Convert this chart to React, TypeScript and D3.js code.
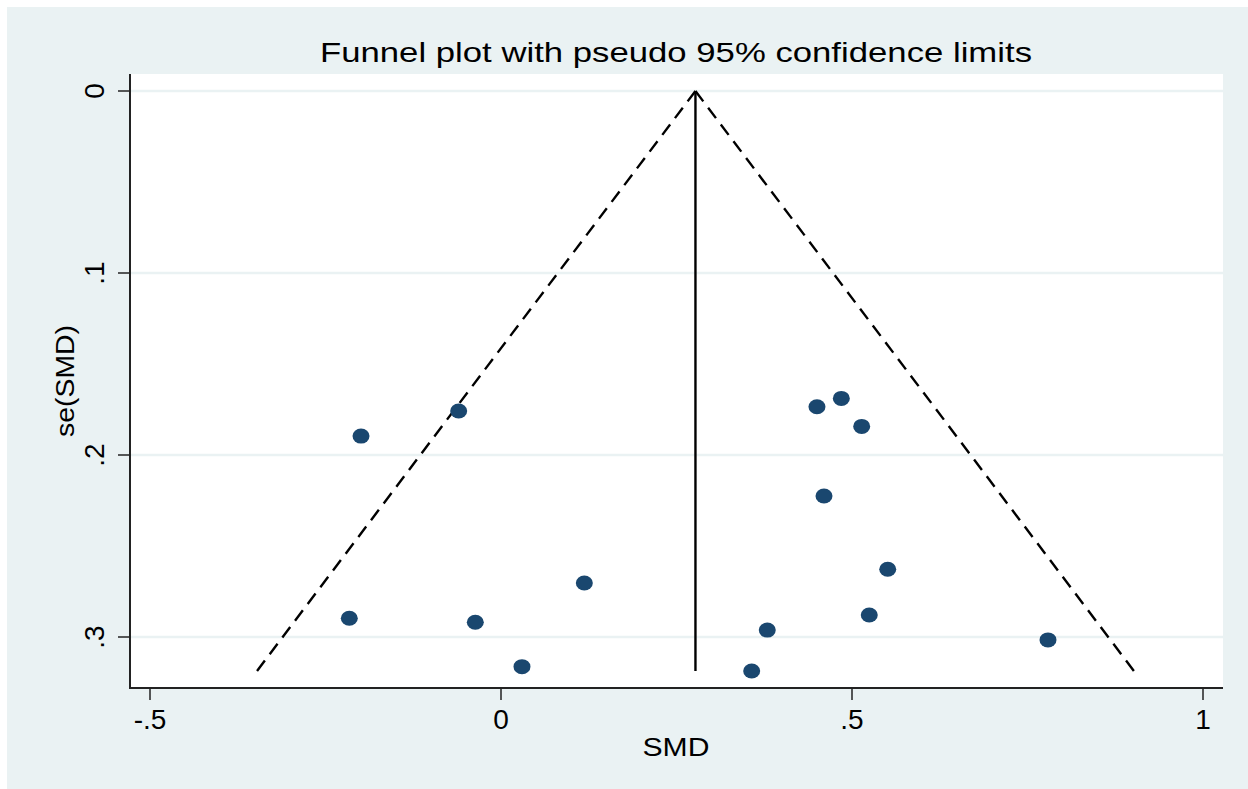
import React from "react";
import * as d3 from "d3";

const smd = [-0.1994, -0.0603, -0.2161, -0.0366, 0.0299, 0.1187, 0.3571, 0.3793, 0.4501, 0.4848, 0.5138, 0.4601, 0.5509, 0.5246, 0.7792];
const seSmd = [0.1896, 0.1758, 0.2897, 0.2919, 0.3163, 0.2703, 0.3187, 0.2962, 0.1735, 0.1689, 0.1843, 0.2225, 0.2628, 0.2879, 0.3016];
const pooled = 0.277;
const xTicks = [-0.5, 0, 0.5, 1];
const xTickLabels = ["-.5", "0", ".5", "1"];
const yTicks = [0, 0.1, 0.2, 0.3];
const yTickLabels = ["0", ".1", ".2", ".3"];
const title = "Funnel plot with pseudo 95% confidence limits";

export default function App() {
  const W = 1248, H = 789;
  const plot = { left: 130, right: 1223, top: 74, bottom: 688 };
  const x = d3.scaleLinear().domain([-0.5, 1]).range([150, 1203]);
  const y = d3.scaleLinear().domain([0, 0.3]).range([91, 637]);
  const maxSe = d3.max(seSmd) as number;
  const line = d3.line<[number, number]>().x(d => x(d[0])).y(d => y(d[1]));
  const leftLimit: [number, number][] = [[pooled, 0], [pooled - 1.96 * maxSe, maxSe]];
  const rightLimit: [number, number][] = [[pooled, 0], [pooled + 1.96 * maxSe, maxSe]];
  const font = "'Liberation Sans', Arial, Helvetica, sans-serif";
  return (
    <svg width={W} height={H} style={{ position: "absolute", left: 0, top: 0 }} fontFamily={font}>
      <rect x={0} y={0} width={W} height={H} fill="#ffffff" />
      <rect x={7} y={7} width={W - 7} height={H - 7} fill="#EAF2F3" />
      <rect x={plot.left} y={plot.top} width={plot.right - plot.left} height={plot.bottom - plot.top} fill="#ffffff" />
      {yTicks.map((t, i) => (
        <line key={"g" + i} x1={plot.left} x2={plot.right} y1={y(t)} y2={y(t)} stroke="#EAF2F3" strokeWidth={2.5} />
      ))}
      <path d={line(leftLimit) || ""} fill="none" stroke="#000" strokeWidth={2.4} strokeDasharray="13 8" />
      <path d={line(rightLimit) || ""} fill="none" stroke="#000" strokeWidth={2.4} strokeDasharray="13 8" />
      <line x1={x(pooled)} x2={x(pooled)} y1={y(0)} y2={y(maxSe)} stroke="#000" strokeWidth={2.4} />
      {smd.map((v, i) => (
        <ellipse key={"p" + i} cx={x(v)} cy={y(seSmd[i])} rx={8.5} ry={7.5} fill="#1a476f" />
      ))}
      <line x1={plot.left} x2={plot.left} y1={plot.top} y2={plot.bottom + 1} stroke="#222" strokeWidth={2} />
      <line x1={plot.left} x2={plot.right} y1={plot.bottom} y2={plot.bottom} stroke="#222" strokeWidth={2} />
      {yTicks.map((t, i) => (
        <g key={"yt" + i}>
          <line x1={plot.left - 12} x2={plot.left} y1={y(t)} y2={y(t)} stroke="#222" strokeWidth={1.5} />
          <text transform={`translate(104,${y(t)}) rotate(-90)`} textAnchor="middle" fontSize={28} fill="#000">
            {yTickLabels[i]}
          </text>
        </g>
      ))}
      {xTicks.map((t, i) => (
        <g key={"xt" + i}>
          <line x1={x(t)} x2={x(t)} y1={plot.bottom} y2={plot.bottom + 12} stroke="#222" strokeWidth={1.5} />
          <text x={x(t)} y={729} textAnchor="middle" fontSize={28} fill="#000">
            {xTickLabels[i]}
          </text>
        </g>
      ))}
      <text x={676} y={62} textAnchor="middle" fontSize={28} fill="#000" textLength={712} lengthAdjust="spacingAndGlyphs">{title}</text>
      <text x={676} y={756} textAnchor="middle" fontSize={26} fill="#000" textLength={67} lengthAdjust="spacingAndGlyphs">SMD</text>
      <text transform={`translate(74,381) rotate(-90)`} textAnchor="middle" fontSize={26} fill="#000" textLength={112} lengthAdjust="spacingAndGlyphs">se(SMD)</text>
    </svg>
  );
}
